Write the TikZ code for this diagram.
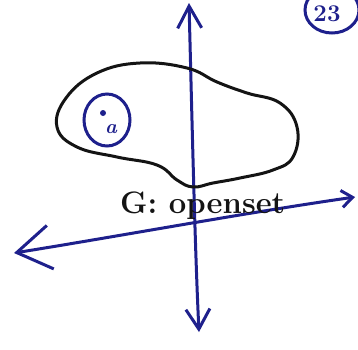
\documentclass[tikz,border=0pt]{standalone}
\usetikzlibrary{arrows.meta,shapes.geometric}
\definecolor{ink}{RGB}{30,32,140}
\definecolor{pen}{RGB}{20,20,20}
\begin{document}
\begin{tikzpicture}[x=1pt,y=-1pt,
  axis/.style={draw=ink,line width=3pt,line cap=round,line join=round},
  blob/.style={draw=pen,line width=3pt},
  lbl/.style={text=pen,font=\fontsize{31}{31}\selectfont\bfseries,inner sep=0pt}]
\useasboundingbox (0,0) rectangle (358,349);
% axes endpoints
\coordinate (ytop) at (189,3);
\coordinate (ybot) at (199,332);
\coordinate (xl) at (14,253);
\coordinate (xr) at (355,197);
\draw[axis,{Straight Barb[length=22pt,width=24pt,line width=3pt]}-{Straight Barb[length=20pt,width=24pt,line width=3pt]}]
  (ytop) .. controls (192,120) and (195,250) .. (ybot);
\draw[axis,{Straight Barb[length=34pt,width=44pt,line width=3pt]}-{Straight Barb[length=11pt,width=17pt,line width=3pt]}]
  (xl) .. controls (120,236) and (250,212) .. (xr);
% open set G
\draw[blob] plot[smooth cycle,tension=0.7] coordinates {
  (57,127) (66,98) (97,73) (140,63) (187,68) (217,82) (247,93) (280,103)
  (297,127) (293,157) (273,170) (240,178) (213,183) (193,187) (177,180)
  (157,165) (117,157) (77,147)};
% neighbourhood of a
\node[draw=ink,line width=3pt,ellipse,minimum width=46pt,minimum height=52pt,inner sep=0pt] (nb) at (107,120) {};
\fill[ink] (103,113) circle (3pt) coordinate (pa);
\node[text=ink,font=\fontsize{20}{20}\selectfont\bfseries\itshape,inner sep=0pt] (la) at (111,129) {a};
% label
\node[lbl,anchor=west] (g) at (120,206) {G: openset};
% page number
\node[draw=ink,line width=3pt,ellipse,minimum width=54pt,minimum height=46pt,inner sep=0pt] (pg) at (332,10) {};
\node[text=ink,font=\fontsize{24}{24}\selectfont\bfseries,inner sep=0pt] (pn) at (327,14) {23};
\end{tikzpicture}
\end{document}
